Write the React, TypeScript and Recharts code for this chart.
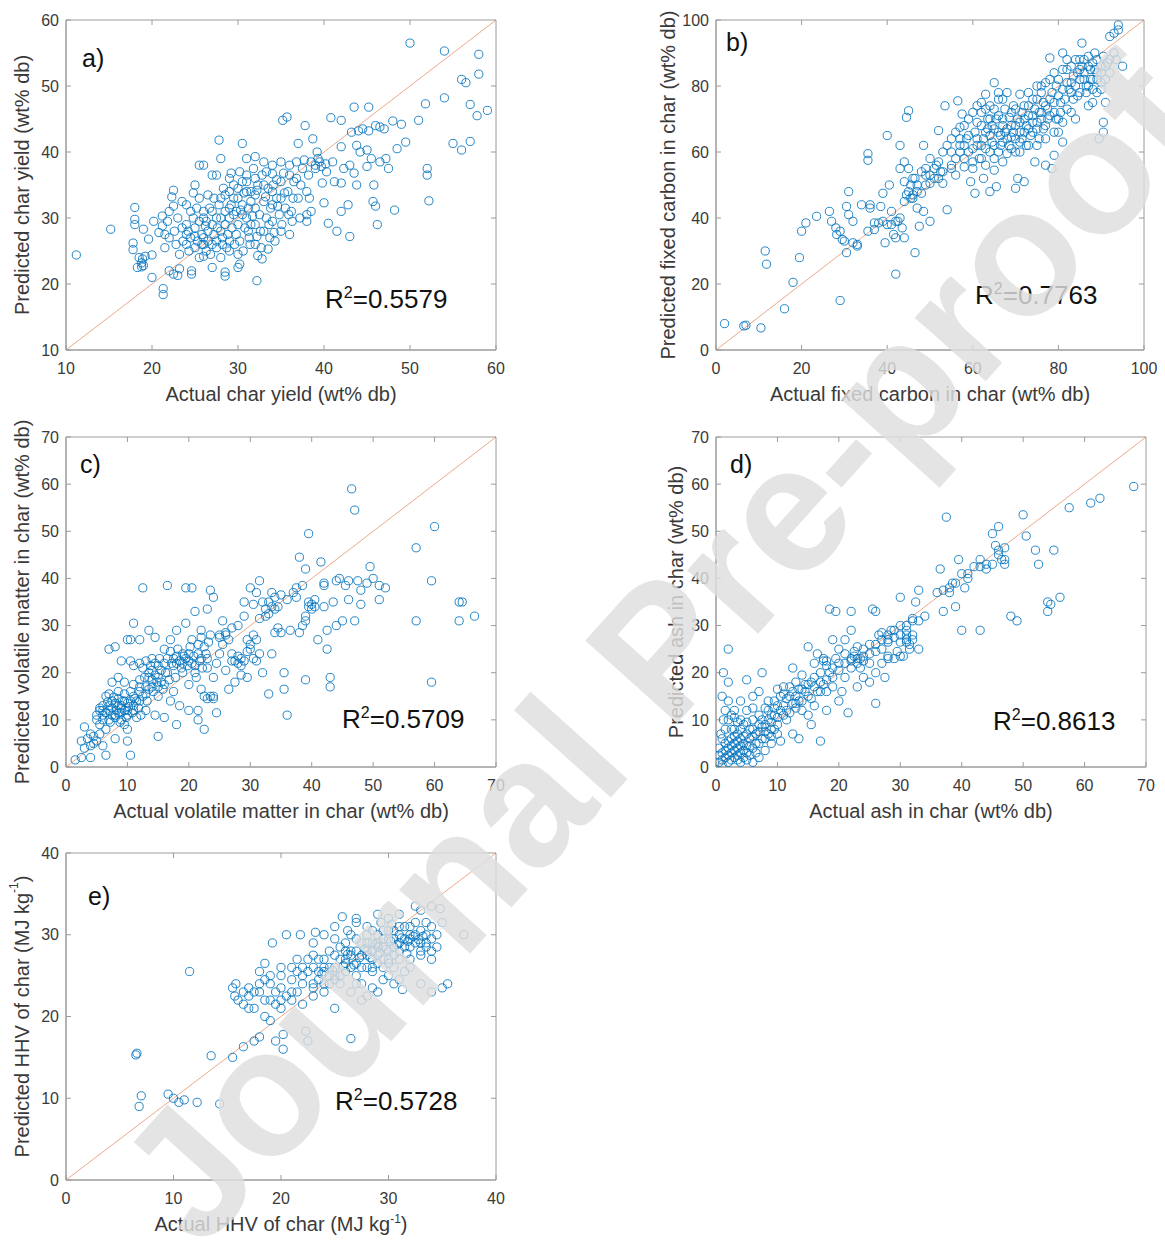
import React from "react";
import {
  ScatterChart,
  Scatter,
  XAxis,
  YAxis,
  ReferenceLine,
  ReferenceArea,
} from "recharts";

type Pt = [number, number];

// [actual, predicted] pairs
const charYield: Pt[] = [
  [11.2, 24.4], [15.2, 28.3], [18, 31.6], [18, 29.8], [18, 29], [17.8, 26.2], [17.8, 25.2], [18.5, 24],
  [18.8, 23.2], [19, 22.8], [18.8, 22.6], [19.2, 24.2], [19, 28.3], [20, 24.4], [20, 21], [21.2, 30.3],
  [21.2, 28.8], [21.5, 27.5], [22, 27], [21.3, 19.3], [21.3, 18.4], [22.5, 34.2], [22.3, 33.2], [22.5, 31.8],
  [22, 22], [22.5, 21.5], [23, 21.3], [23.2, 22.3], [23.5, 32.5], [24, 32], [24.5, 31], [24, 29],
  [24, 26], [24.3, 25], [24.6, 22], [24.6, 21.5], [25, 35], [25.5, 38], [25.3, 26.5], [25.5, 24],
  [26, 30], [26, 27], [26, 26], [26.3, 25], [26.5, 28], [27, 36.5], [27, 22.5], [27, 31],
  [27.5, 26.5], [27.8, 41.8], [28, 39], [28, 33], [28, 30], [28.2, 27], [28.5, 21.8], [28.5, 21.2],
  [28.5, 29], [29, 36], [29, 34], [29, 26.5], [29.2, 32], [29.5, 30.5], [29.8, 27.5], [30, 24.5],
  [30, 22.5], [30.2, 23], [30, 33], [30.2, 37], [30.5, 41.3], [30.5, 35.5], [31, 39], [31, 34],
  [31, 30], [31.2, 28], [31.5, 32.5], [32, 36], [32, 39.3], [32, 31.5], [32, 29], [32.2, 27.2],
  [32.3, 24.3], [32.2, 20.5], [32.8, 23.8], [33, 35], [33, 38.5], [33.3, 30], [33.5, 25.3], [34, 36.7],
  [34, 34], [34, 32], [34, 29.5], [34.3, 26.5], [34.5, 35.8], [35, 33], [35, 28], [35, 38.5],
  [35.2, 44.8], [35.7, 45.3], [36, 38], [36, 27.5], [36.2, 31], [36.5, 35.5], [37, 41.3], [37.3, 35],
  [37.8, 44], [37.7, 38.8], [38, 34], [38, 30.5], [38, 29.5], [38.5, 31], [38.7, 42], [39, 38],
  [39.5, 38.5], [39.8, 35.3], [40, 32.3], [40.3, 37], [40.5, 29.2], [40.8, 45.2], [41, 38.5], [41.5, 28],
  [42, 44.8], [42, 40.8], [42, 35.3], [42, 31], [42.3, 37.5], [42.8, 32], [43, 27.2], [43.2, 43],
  [43.5, 46.8], [43.5, 36.8], [43.8, 41], [43.8, 35], [44, 43.2], [44.5, 43.5], [45, 40.3], [45, 37.8],
  [45.2, 46.8], [45.2, 43.2], [45.5, 39], [45.7, 32.5], [46, 44], [46, 31.8], [46.2, 29], [46.5, 43.8],
  [47, 43.5], [47.5, 37.5], [48, 44.7], [48.2, 31.2], [48.5, 40.5], [49, 44.2], [49.5, 41.5], [50, 56.5],
  [51, 44.8], [51.8, 47.3], [52, 37.5], [52, 36.5], [52.2, 32.6], [54, 48.2], [54, 55.3], [55, 41.3],
  [56, 40.3], [56, 51], [56.5, 50.5], [57, 41.6], [57, 47.2], [57.8, 45.5], [58, 51.8], [58, 54.8],
  [59, 46.3], [24.5, 27], [25, 28.5], [25, 25.5], [25.5, 29.5], [25.8, 27.5], [26, 31], [26.2, 28.8],
  [26.5, 26.5], [26.8, 24.5], [27, 29], [27.2, 27.5], [27.5, 30], [27.5, 25.5], [27.8, 32], [28, 28],
  [28.2, 26], [28.5, 31], [28.5, 33.5], [28.8, 27.5], [29, 30], [29, 31.5], [29.3, 28.5], [29.5, 33],
  [29.5, 35], [29.8, 31], [30, 29], [30, 34.5], [30.2, 26.5], [30.5, 32], [30.5, 30.5], [30.8, 28.5],
  [31, 35.5], [31, 36.5], [31.2, 31.5], [31.5, 29], [31.5, 34], [31.8, 37.5], [32, 33.5], [32, 26],
  [32.3, 35], [32.5, 30.5], [32.8, 36.5], [33, 32.5], [33, 28], [33.3, 37], [33.5, 34.5], [33.8, 31.5],
  [34, 38], [34.2, 27.8], [34.5, 33], [34.8, 30.5], [35, 35.5], [35.3, 36.8], [35.5, 31.5], [35.8, 34],
  [36, 36.5], [36.3, 29.5], [23, 30], [23.5, 28.5], [22.8, 26], [23.2, 24.5], [21.8, 29.5], [22, 31],
  [20.8, 27.8], [26, 38], [27.5, 36.5], [26.5, 33.5], [25.5, 33], [24.8, 33.8], [38.5, 38.5], [39, 37.5],
  [39.3, 39], [39.7, 37.8], [38.2, 36.5], [37.5, 37.5], [37, 33], [36.8, 38.5], [24.2, 28], [24.8, 30],
  [25.2, 31.5], [25.8, 26], [26.3, 29.5], [26.7, 31.5], [27.2, 33], [27.6, 28.5], [28.3, 34.5], [28.7, 25.5],
  [29.2, 36.8], [29.6, 26], [30.3, 31.2], [30.7, 33.8], [31.3, 27], [31.7, 30.3], [32.2, 34.2], [32.6, 28],
  [33.2, 33.2], [33.6, 29], [34.1, 35], [34.6, 31.8], [35.1, 29], [35.4, 33.8], [35.9, 30.5], [36.4, 33],
  [36.8, 36], [37.2, 30], [38.3, 33], [39.2, 40], [40.2, 38.2], [41.2, 35.5], [43, 38], [44.2, 40],
  [46.5, 38.5], [45.8, 35], [47.2, 39], [25, 27.2], [26, 24.2], [27, 26], [28, 24], [29, 25],
  [30.6, 25], [31.4, 26], [32.7, 25.5], [33.7, 27], [24, 27.5], [23.6, 26.5], [22.6, 28], [21.5, 25.5],
  [20.2, 29.5], [19.6, 26.8], [18.3, 22.5], [18.9, 23.8],
];

const fixedCarbon: Pt[] = [
  [2, 8], [6.5, 7.3], [7, 7.5], [10.5, 6.7], [11.5, 30], [11.8, 26], [16, 12.5], [18, 20.5],
  [19.5, 28], [20, 36], [21, 38.5], [23.5, 40.5], [26.5, 42], [27, 39], [28, 37], [28.2, 35],
  [29, 15], [29.5, 33.5], [30.5, 29.5], [30.5, 43.5], [31, 48], [31, 41], [32, 32.5], [32, 39],
  [33, 31.5], [34, 44], [35.5, 36], [35.5, 59.5], [35.5, 57.5], [36, 43], [37, 36.5], [38, 38.5],
  [38.5, 43.5], [39, 47.5], [39.5, 32.5], [40, 65], [40, 38], [40.5, 50], [41, 42], [41.5, 35],
  [42, 23], [42, 34], [42.5, 39], [43, 62], [43, 55], [43.5, 37], [44, 34], [44, 45],
  [44.5, 70.5], [45, 72.5], [45, 48], [45, 55], [45.5, 50], [46, 46], [46.5, 29.5], [46.5, 52],
  [47, 43], [47.5, 37.5], [48, 47.5], [48.5, 62], [48.5, 42], [49, 55], [49, 53], [50, 39],
  [50, 50.5], [51, 52], [51.5, 56], [52, 66.5], [52.5, 54], [53, 50.5], [53.5, 74], [54, 42.5],
  [55, 60], [55, 55], [56, 53], [56.5, 75.5], [57, 62], [57, 67.5], [57.5, 71.5], [58, 55.5],
  [58, 58], [58.5, 64], [59, 60], [59.5, 51], [60, 57], [60.5, 47.5], [61, 64], [61, 69],
  [61.5, 58], [62, 72], [62, 62], [62.5, 52], [63, 77.5], [63, 66], [63.5, 70], [64, 60],
  [64, 74], [64, 48], [64.5, 63], [65, 81], [65, 67], [65, 54.5], [65.5, 49.5], [66, 78],
  [66, 71], [66, 60], [66.5, 65], [67, 68], [67, 63], [67.5, 73], [68, 67], [68, 59.5],
  [68.5, 70.5], [69, 64.5], [69.5, 74], [70, 68], [70, 60], [70, 49], [70.5, 52], [71, 66],
  [71, 77.5], [71.5, 64], [72, 51], [72, 70], [72.5, 62], [73, 67], [73, 74], [74, 71],
  [74, 66], [74.5, 57], [75, 76], [75, 69], [75.5, 64], [76, 72], [76, 80], [76.5, 67],
  [77, 74], [77, 56], [77.5, 70], [78, 76], [78, 88.5], [78.5, 55], [79, 59], [79, 72],
  [79.5, 80], [80, 66], [80, 70], [80.5, 75], [81, 90], [81, 63], [82, 85], [82, 73],
  [82.5, 79], [83, 81], [83.5, 76], [84, 70], [84.5, 84], [85, 88], [85, 78], [85.5, 93],
  [86, 82], [86.5, 80], [87, 74], [87, 89], [87.5, 85], [88, 82], [88, 87], [88.5, 90],
  [89, 78], [89, 84], [89.5, 64], [90, 81], [90, 86], [90.5, 66], [90.5, 69], [90.5, 89],
  [91, 75], [91.5, 87], [92, 84], [92, 95], [93, 96], [93.5, 88], [94, 98.5], [94, 97],
  [95, 86], [58, 62], [59, 65], [60, 61], [60.5, 66], [61, 62], [62, 68], [62.5, 64],
  [63, 61], [63.5, 67], [64, 65], [64.5, 68], [65, 62], [65.5, 70], [66, 66], [66.5, 62],
  [67, 70], [67.5, 66], [68, 64], [68.5, 62], [69, 68], [69.5, 66], [70, 64], [70.5, 70],
  [71, 69], [71.5, 72], [72, 66], [72.5, 68], [73, 71], [73.5, 65], [74, 69], [74.5, 73],
  [75, 67], [75.5, 72], [76, 70], [76.5, 75], [77, 68], [77.5, 73], [78, 71], [78.5, 78],
  [79, 75], [79.5, 70], [80, 77], [80.5, 72], [81, 79], [81.5, 76], [82, 81], [83, 78],
  [83.5, 83], [84, 80], [84.5, 77], [85, 82], [85.5, 86], [86, 84], [86.5, 78], [87, 86],
  [87.5, 82], [88, 79], [88.5, 85], [89, 88], [90, 84], [91, 82], [56, 58], [57, 60],
  [55, 56], [53, 54], [52, 52], [51, 55], [50, 53], [49, 50], [47, 48], [46, 47],
  [45.5, 46], [44.5, 47], [44, 57], [44, 51], [43, 40], [42, 39], [41, 38], [39, 39],
  [37, 38.5], [36, 44], [33, 32], [30, 33], [29, 36], [46, 52], [47, 50], [48, 54],
  [50, 58], [52, 57], [53, 60], [54, 62], [55, 64], [56, 66], [57, 64], [58, 68],
  [59, 70], [60, 72], [61, 74], [62, 75], [63, 73], [64, 70], [65, 73], [66, 76],
  [67, 76], [68, 78], [69, 72], [70, 73], [71, 60], [72, 74], [73, 78], [74, 76],
  [75, 80], [76, 78], [77, 81], [78, 82], [79, 84], [80, 82], [81, 85], [82, 88],
  [83, 86], [84, 88], [85, 85], [86, 88], [87, 80], [88, 75], [89, 82], [90, 79],
  [91, 86], [92, 88], [93, 90], [60, 55], [62, 58], [63, 56], [65, 58], [67, 57],
  [69, 61], [71, 63], [73, 62], [75, 62], [77, 64], [79, 66], [81, 69], [83, 72],
];

const volatileMatter: Pt[] = [
  [1.5, 1.5], [2.5, 2], [2.5, 5.5], [3, 8.5], [3.5, 6], [4, 2], [4, 4.5], [4.5, 5],
  [4.5, 6.5], [5, 5.5], [5, 10], [5.5, 9], [5.5, 12], [6, 4.5], [6, 11], [6.5, 2.5],
  [6.5, 15], [7, 25], [7, 12], [7, 10], [7.5, 14], [7.5, 18], [8, 25.5], [8, 11],
  [8, 6], [8.5, 13], [8.5, 16], [9, 22.5], [9, 10], [9, 12.5], [9.5, 9], [9.5, 14],
  [10, 27], [10, 8], [10, 5.5], [10, 12], [10.5, 22.5], [10.5, 27], [10.5, 2.5], [11, 15],
  [11, 30.5], [11, 13], [11.5, 10.5], [12, 17], [12, 14], [12, 27], [12.5, 38], [12.5, 21],
  [13, 12], [13, 15.5], [13, 22.5], [13.5, 29], [13.5, 19], [14, 23], [14, 17], [14, 20.5],
  [14.5, 11], [14.5, 27.5], [15, 15], [15, 6.5], [15, 21.5], [15.5, 18], [16, 10.5], [16, 25],
  [16.5, 38.5], [16.5, 20], [17, 14], [17, 27], [17.5, 23], [17.5, 16], [18, 9], [18, 22],
  [18, 29], [18.5, 13], [19, 20], [19, 24], [19.5, 38], [19.5, 30.5], [20, 22.5], [20, 12],
  [20, 17.5], [20.5, 27], [20.5, 38], [21, 33], [21, 20], [21.5, 10], [21.5, 24], [21.5, 12],
  [22, 29], [22, 23], [22, 16.5], [22.5, 8], [22.5, 25.5], [23, 14.5], [23, 33.5], [23, 21],
  [23.5, 37.5], [23.5, 28], [24, 15], [24, 36], [24, 19], [24.5, 11.5], [25, 28], [25, 24],
  [25.5, 31], [26, 28.5], [26, 20.5], [26.5, 16.5], [27, 29.5], [27, 24], [27.5, 18], [28, 22],
  [28, 30], [28.5, 19.5], [29, 35], [29, 22.5], [29, 32], [29.5, 19], [30, 38], [30, 26],
  [30.5, 34.5], [30.5, 23], [31, 37], [31, 22.5], [31, 27], [31.5, 39.5], [32, 20], [32.5, 32],
  [33, 15.5], [33, 35], [33.5, 34], [33.5, 24], [34, 33.5], [34, 28.5], [34.5, 29.5], [35, 28.5],
  [35, 36.5], [35.5, 20], [35.5, 16.5], [36, 11], [36.5, 29], [37, 37], [37.5, 36], [38, 28.5],
  [38, 44.5], [38.5, 38.5], [39, 42], [39, 18.5], [39, 31], [39.5, 35], [39.5, 49.5], [40, 34.5],
  [40.5, 34], [41, 27], [41.5, 43.5], [42, 39], [42, 34], [42.5, 25], [42.5, 29], [43, 17],
  [43, 19], [43.5, 35], [44, 30], [44.5, 40], [45, 31], [46, 39.5], [46, 35.5], [46.5, 59],
  [47, 31], [47, 54.5], [47.5, 39.5], [48, 37.5], [48, 34.5], [49.5, 42.5], [50, 40], [51, 35.5],
  [51, 38.5], [52, 38], [57, 46.5], [57, 31], [59.5, 39.5], [59.5, 18], [60, 51], [64, 35],
  [64.5, 35], [64, 31], [66.5, 32], [5, 11], [5.5, 12.5], [6, 10], [6, 13], [6.5, 11.5],
  [7, 13], [7, 15.5], [7.5, 11], [7.5, 12.5], [8, 13.5], [8, 10.5], [8.5, 11.5], [8.5, 14.5],
  [9, 13], [9, 11.5], [9.5, 12], [9.5, 15.5], [10, 13.5], [10, 11], [10.5, 14], [10.5, 16],
  [11, 12], [11, 17.5], [11.5, 14], [12, 16], [12, 18.5], [12.5, 15], [13, 17], [13.5, 20],
  [13.5, 16.5], [14, 18.5], [14.5, 19.5], [14.5, 22], [15, 19], [15, 17], [15.5, 20.5], [16, 22],
  [16, 17.5], [16.5, 23], [17, 24.5], [17.5, 21.5], [18, 23.5], [18.5, 22.5], [19, 22], [19.5, 23],
  [20, 24], [20.5, 22], [21, 21.5], [21.5, 26], [22, 27.5], [23, 23], [23.5, 15], [24, 14.5],
  [22.5, 15], [25, 27.5], [26, 28], [27.5, 22.5], [28, 23.5], [28.5, 21.5], [29.5, 24.5], [30, 25],
  [31.5, 24], [32.5, 33.5], [33, 32.5], [34, 36], [38.5, 30], [39, 32], [39.5, 34], [40, 33.5],
  [6, 12], [6.8, 13.8], [7.2, 9.5], [7.8, 14.8], [8.2, 12], [8.8, 9.5], [9.2, 14], [9.8, 10.5],
  [10.2, 12.8], [10.8, 11.5], [11.2, 14.5], [11.8, 12.5], [12.2, 11], [12.8, 19], [13.2, 14], [13.8, 21.5],
  [14.2, 16], [14.8, 18], [15.2, 23], [15.8, 16.5], [16.2, 20], [16.8, 18.5], [17.2, 22], [17.8, 19],
  [18.2, 25], [18.8, 21], [19.2, 23.5], [19.8, 21.5], [20.2, 25.5], [20.8, 23.5], [21.2, 19], [21.8, 22.5],
  [22.2, 21], [22.8, 24], [23.2, 26.5], [24.5, 22], [25.5, 26], [26.5, 27], [27, 22.5], [28.5, 23],
  [29.5, 27], [30.5, 28], [31.5, 31.5], [32, 35], [33.5, 37], [34.5, 34], [36, 35.5], [37.5, 38],
  [40.5, 35.5], [42, 38.5], [44, 39.5], [45.5, 38.5], [49, 39], [6.5, 8], [4, 7], [3, 4],
  [5.5, 7], [8.5, 19], [9.5, 18], [12, 22], [11, 21.5],
];

const ashContent: Pt[] = [
  [0.5, 1], [1, 0.5], [1, 3], [1, 15], [1.2, 20], [1.5, 5], [1.5, 2], [2, 25],
  [2, 18], [2, 4], [2, 1], [2.5, 6], [2.5, 8], [2.5, 3], [3, 10.5], [3, 2],
  [3, 5], [3.5, 4], [3.5, 1.5], [4, 10], [4, 3], [4, 6], [4.5, 2], [4.5, 5],
  [5, 18.5], [5, 12], [5, 7], [5, 3], [5.5, 4.5], [6, 1], [6, 8], [6, 12.5],
  [6.5, 5], [7, 2], [7, 9], [7.5, 20], [7.5, 6], [8, 7.5], [8, 3.5], [8.5, 12],
  [8.5, 10], [9, 5], [9, 8], [9.5, 14], [9.5, 11], [10, 9], [10, 16.5], [10.5, 5.5],
  [11, 13], [11, 17], [11.5, 10], [12, 15], [12.5, 7], [12.5, 21], [13, 12.5], [13, 18],
  [13.5, 6], [14, 19.5], [14, 14], [14.5, 16], [15, 25.5], [15, 11], [15.5, 9], [15.5, 18],
  [16, 13], [16, 22], [16.5, 24], [17, 5.5], [17, 16], [17.5, 22.5], [18, 22.5], [18, 12],
  [18.5, 33.5], [18.5, 20], [19, 27], [19, 17], [19.5, 33], [20, 14], [20, 25], [20.5, 16],
  [21, 19], [21, 27], [21.5, 11.5], [22, 23], [22, 33], [22, 29], [22.5, 24.5], [23, 23],
  [23, 17], [23.5, 21], [24, 22.5], [24, 19], [25, 26], [25, 18], [25.5, 33.5], [26, 13.5],
  [26, 33], [26, 20], [26.5, 28], [27, 22], [27, 28.5], [27.5, 19], [28, 23], [28, 27],
  [28.5, 29], [29, 23], [29.5, 24.5], [30, 36], [30, 26.5], [30.5, 23.5], [31, 27], [31, 30],
  [31.5, 25], [32, 28], [32, 31.5], [32.5, 35], [33, 37.5], [33, 25], [36.5, 42], [37, 33],
  [37.5, 53], [37, 37.5], [38, 38], [38.5, 39], [39, 34], [39.5, 44], [40, 29], [40, 41],
  [40.5, 38], [41, 41], [42, 42.5], [43, 29], [43, 44], [44, 43], [45, 43], [45, 49.5],
  [45.5, 47], [46, 51], [46, 46], [46.5, 44], [47, 46.5], [47, 43], [48, 32], [49, 31],
  [50, 53.5], [50.5, 49], [52, 46], [52.5, 43], [54, 33], [54, 35], [54.5, 34.5], [55, 46],
  [56, 36], [57.5, 55], [61, 56], [62.5, 57], [68, 59.5], [0.5, 2.5], [1, 1.5], [1.5, 3.5],
  [2, 2.5], [2, 5.5], [2.5, 1.5], [2.5, 4.5], [3, 3.5], [3, 6.5], [3.5, 2.5], [3.5, 5.5],
  [4, 4.5], [4, 1], [4.5, 3.5], [4.5, 6.5], [5, 4.5], [5, 1.5], [5.5, 2.5], [5.5, 6],
  [6, 4], [6, 6.5], [6.5, 3], [7, 5], [7, 7.5], [7.5, 8.5], [8, 9], [8, 6],
  [8.5, 7], [9, 9.5], [9, 6.5], [9.5, 8], [10, 10.5], [10, 7], [10.5, 12], [11, 11],
  [11.5, 14.5], [12, 11.5], [12.5, 13.5], [13, 15], [13.5, 16.5], [14, 12], [14.5, 17.5], [15, 15],
  [16, 17], [17, 18], [18, 18.5], [19, 21], [20, 20.5], [21, 22], [22, 22.5], [23, 22],
  [24, 25], [25, 24], [26, 26], [27, 27], [28, 26.5], [29, 27.5], [30, 28], [31, 29],
  [32, 31], [22.5, 23.5], [23.5, 23], [17.5, 23], [18, 21.5], [28, 23.5], [30, 23.5], [31, 26.5],
  [31.5, 26], [1, 6], [1.5, 8], [1.5, 12], [2, 10], [2, 14], [2.5, 11], [3, 8],
  [3.5, 7], [3.5, 9.5], [4, 8], [4.5, 9], [5, 9.5], [5.5, 8], [6, 10], [6.5, 7],
  [7, 11], [7.5, 10], [8, 12.5], [8.5, 14], [9, 11], [9.5, 12.5], [10, 13], [10.5, 15],
  [11, 15.5], [11.5, 12], [12, 17], [12.5, 16], [13, 13.5], [13.5, 14], [14, 16.5], [15, 17.5],
  [15.5, 14.5], [16, 19], [16.5, 16], [17, 20], [17.5, 17.5], [18, 16], [19, 19], [19.5, 23],
  [20, 22], [21, 24], [22, 21], [23, 25.5], [24, 23.5], [25, 22], [26, 24.5], [27, 25],
  [28, 28], [29, 29], [30, 30], [31, 28], [32, 27], [33, 31], [34, 32], [36, 37],
  [38, 37], [39, 39], [41, 40], [43, 42.5], [44, 42], [46, 45], [47, 44], [0.5, 4],
  [0.8, 7], [1.2, 10], [3, 12], [4, 14], [6, 15], [7, 16],
];

const hhv: Pt[] = [
  [6.5, 15.3], [6.6, 15.5], [6.8, 9], [7, 10.3], [9.5, 10.5], [10, 10], [10.5, 9.5], [11, 9.8],
  [11.5, 25.5], [12.2, 9.5], [13.5, 15.2], [14.3, 9.3], [15.5, 15], [15.5, 23.5], [15.7, 22.5], [15.8, 24],
  [16.5, 16.3], [17, 21], [17, 22.5], [17.5, 17], [17.5, 23], [18, 25.5], [18, 17.5], [18.5, 22],
  [18.5, 26.5], [19, 24], [19, 19.5], [19.2, 29], [19.5, 21.5], [19.5, 17], [20, 25], [20, 22],
  [20.2, 16], [20.2, 17.8], [20.5, 30], [21, 26], [21, 22], [21.5, 23], [21.8, 30], [22, 25],
  [22, 21.5], [22.3, 18.2], [22.5, 17], [23, 24], [23, 27.5], [23.2, 30.3], [23.5, 25.5], [24, 30],
  [24, 23], [24.5, 26], [25, 29.5], [25, 24.5], [25, 21], [25.5, 27], [25.7, 32.2], [26, 25.5],
  [26.2, 30.5], [26.5, 17.3], [26.5, 28], [27, 26.5], [27, 31.5], [27.5, 29], [27.5, 24], [28, 27.5],
  [28, 22.5], [28.5, 30.5], [28.5, 25.5], [29, 28.5], [29, 23], [29.3, 31.5], [29.5, 27], [30, 29.5],
  [30, 32], [30.5, 26], [30.5, 28.5], [31, 30], [31, 24.5], [31.3, 23.3], [31.5, 29.5], [32, 31],
  [32, 27], [32.5, 33.5], [33, 29], [33, 24], [33.5, 30], [33.5, 31.5], [34, 28], [34, 23],
  [34.5, 30], [34.8, 33.2], [35, 31.5], [35, 23.5], [35.5, 24], [37, 30], [22.5, 25.5], [23, 26],
  [23.5, 24.5], [24, 25.5], [24, 27], [24.5, 24], [25, 26], [25.5, 25], [25.5, 28.5], [26, 27],
  [26, 29], [26.5, 26], [27, 28], [27, 25], [27.5, 27.5], [28, 29], [28, 26], [28.5, 28],
  [28.5, 27], [29, 30], [29, 26.5], [29.5, 28.5], [29.5, 29.5], [30, 28], [30, 27], [30.5, 29.5],
  [30.5, 30.5], [31, 29], [31, 28], [31.5, 31], [32, 29.5], [32, 28.5], [32.5, 30], [32.5, 29],
  [33, 30.5], [33, 27.5], [33.5, 28.5], [34, 29.5], [34, 31], [21, 24.5], [21.5, 25.5], [20.5, 22.5],
  [20, 21], [19.5, 23], [19, 22], [18.5, 20], [18, 23], [17.5, 21], [16.5, 21.5], [16, 22],
  [22, 26], [23, 22.5], [24.5, 28], [26.5, 23], [27.5, 22], [28.5, 23.5], [30, 25], [31.5, 25.5],
  [22.5, 27], [23, 23.5], [23.5, 27], [24, 24], [24.5, 25], [25, 27.5], [25.5, 24], [26, 28],
  [26.5, 27.5], [27, 29.5], [27, 24], [27.5, 26], [28, 30], [28, 28], [28.5, 29], [28.5, 26],
  [29, 27.5], [29, 29], [29.5, 30.5], [29.5, 26], [30, 30.5], [30, 26.5], [30.5, 27.5], [31, 31],
  [31, 27], [31.5, 28.5], [32, 30], [32, 26], [32.5, 31.5], [33, 28], [33.5, 29], [34, 27],
  [34.5, 28.5], [30.5, 24], [29.5, 24.5], [26, 26.5], [25, 25], [24, 26], [22, 24], [21, 23],
  [20, 23.5], [19, 25], [18, 24], [17, 23.5], [16.5, 23], [18.5, 24.5], [20, 26], [21.5, 27],
  [23, 29], [25, 31], [27, 32], [29, 32.5], [31, 32.5], [33, 33], [34, 33.5], [26.5, 30],
  [28, 31], [27.8, 28.3], [28.3, 27.2], [28.8, 28.8], [29.2, 27.8], [29.8, 28.2], [30.2, 29.2], [30.8, 28.8],
  [31.2, 29.6], [31.8, 29.2], [32.3, 29.8], [32.8, 29.4], [33.2, 29.8], [27.3, 27.2], [26.8, 26.3], [25.8, 26.2],
  [24.8, 25.6], [23.8, 25.2], [26.2, 27.6], [30.3, 31.3], [31.7, 27.7],
];

const ticksYield = [10, 20, 30, 40, 50, 60];
const ticksCarbon = [0, 20, 40, 60, 80, 100];
const ticksSeventy = [0, 10, 20, 30, 40, 50, 60, 70];
const ticksHHV = [0, 10, 20, 30, 40];

const panelTags = ["a)", "b)", "c)", "d)", "e)"];
const r2Values = ["0.5579", "0.7763", "0.5709", "0.8613", "0.5728"];

const FONT = "'Liberation Sans', Arial, Helvetica, sans-serif";
const TEXT = "#3a3a3a";
const FRAME = "#9c9c9c";
const Y_W = 66;
const M_TOP = 30;
const M_RIGHT = 14;
const X_H = 64;

type Title = { text: string; sup?: string; tail?: string };

const panels = [
  {
    points: charYield, domain: [10, 60], ticks: ticksYield,
    left: 66, top: 20, w: 430, h: 330,
    xTitle: { text: "Actual char yield (wt% db)" },
    yTitle: { text: "Predicted char yield (wt% db)" },
    tagAt: [82, 46], r2At: [325, 284], yTitleOff: 44,
  },
  {
    points: fixedCarbon, domain: [0, 100], ticks: ticksCarbon,
    left: 716, top: 20, w: 428, h: 330,
    xTitle: { text: "Actual fixed carbon in char (wt% db)" },
    yTitle: { text: "Predicted fixed carbon in char (wt% db)" },
    tagAt: [726, 30], r2At: [975, 280], yTitleOff: 48,
  },
  {
    points: volatileMatter, domain: [0, 70], ticks: ticksSeventy,
    left: 66, top: 437, w: 430, h: 330,
    xTitle: { text: "Actual volatile matter in char (wt% db)" },
    yTitle: { text: "Predicted volatile matter in char (wt% db)" },
    tagAt: [80, 452], r2At: [342, 704], yTitleOff: 44,
  },
  {
    points: ashContent, domain: [0, 70], ticks: ticksSeventy,
    left: 716, top: 437, w: 430, h: 330,
    xTitle: { text: "Actual ash in char (wt% db)" },
    yTitle: { text: "Predicted ash in char (wt% db)" },
    tagAt: [730, 452], r2At: [993, 706], yTitleOff: 40,
  },
  {
    points: hhv, domain: [0, 40], ticks: ticksHHV,
    left: 66, top: 853, w: 430, h: 327,
    xTitle: { text: "Actual HHV of char (MJ kg", sup: "-1", tail: ")" },
    yTitle: { text: "Predicted HHV of char (MJ kg", sup: "-1", tail: ")" },
    tagAt: [88, 884], r2At: [335, 1086], yTitleOff: 44,
  },
];

function TitleText({ t }: { t: Title }) {
  return (
    <>
      <tspan>{t.text}</tspan>
      {t.sup && (
        <tspan dy={-8} fontSize={12}>
          {t.sup}
        </tspan>
      )}
      {t.tail && <tspan dy={8}>{t.tail}</tspan>}
    </>
  );
}

const Ring = (p: any) => (
  <circle
    cx={p.cx}
    cy={p.cy}
    r={4.1}
    fill="none"
    stroke="#0072BD"
    strokeOpacity={0.85}
    strokeWidth={1}
  />
);

function Panel({ cfg, idx }: { cfg: (typeof panels)[number]; idx: number }) {
  const data = cfg.points.map(([x, y]) => ({ x, y }));
  const [lo, hi] = cfg.domain;
  const span = hi - lo;
  const tx = (span * 5) / cfg.w; // 5px inward tick, in data units
  const ty = (span * 5) / cfg.h;
  const inner = cfg.ticks.filter((t) => t > lo && t < hi);
  const cx = Y_W + cfg.w / 2;
  const cy = M_TOP + cfg.h / 2;
  const yx = Y_W - cfg.yTitleOff;
  const tick = { fill: TEXT, fontSize: 16, fontFamily: FONT };
  const line = { stroke: FRAME, strokeWidth: 1 };
  return (
    <div
      style={{ position: "absolute", left: cfg.left - Y_W, top: cfg.top - M_TOP }}
    >
      <ScatterChart
        width={cfg.w + Y_W + M_RIGHT}
        height={cfg.h + M_TOP + X_H}
        margin={{ top: M_TOP, right: M_RIGHT, bottom: 0, left: 0 }}
      >
        <XAxis
          type="number"
          dataKey="x"
          domain={[lo, hi]}
          ticks={cfg.ticks}
          allowDataOverflow
          height={X_H}
          tickSize={-5}
          tickMargin={18}
          tick={tick}
          axisLine={line}
          tickLine={line}
        />
        <YAxis
          type="number"
          dataKey="y"
          domain={[lo, hi]}
          ticks={cfg.ticks}
          allowDataOverflow
          width={Y_W}
          tickSize={-5}
          tickMargin={12}
          tick={tick}
          axisLine={line}
          tickLine={line}
        />
        <ReferenceArea
          x1={lo}
          x2={hi}
          y1={lo}
          y2={hi}
          fill="none"
          stroke={FRAME}
          strokeWidth={1}
          fillOpacity={0}
        />
        {inner.map((t) => (
          <ReferenceLine
            key={`t${t}`}
            segment={[
              { x: t, y: hi },
              { x: t, y: hi - ty },
            ]}
            stroke={FRAME}
          />
        ))}
        {inner.map((t) => (
          <ReferenceLine
            key={`r${t}`}
            segment={[
              { x: hi, y: t },
              { x: hi - tx, y: t },
            ]}
            stroke={FRAME}
          />
        ))}
        <ReferenceLine
          segment={[
            { x: lo, y: lo },
            { x: hi, y: hi },
          ]}
          stroke="#D95319"
          strokeOpacity={0.5}
          strokeWidth={1}
        />
        <Scatter data={data} isAnimationActive={false} shape={Ring} />
        <text
          x={cx}
          y={M_TOP + cfg.h + 51}
          textAnchor="middle"
          fill={TEXT}
          fontSize={20}
          fontFamily={FONT}
        >
          <TitleText t={cfg.xTitle} />
        </text>
        <text
          x={yx}
          y={cy}
          transform={`rotate(-90, ${yx}, ${cy})`}
          textAnchor="middle"
          dominantBaseline="central"
          fill={TEXT}
          fontSize={20}
          fontFamily={FONT}
        >
          <TitleText t={cfg.yTitle} />
        </text>
      </ScatterChart>
      <div
        style={{
          position: "absolute",
          left: cfg.tagAt[0] - cfg.left + Y_W,
          top: cfg.tagAt[1] - cfg.top + M_TOP,
          fontFamily: FONT,
          fontSize: 25,
          lineHeight: "25px",
          color: "#111",
        }}
      >
        {panelTags[idx]}
      </div>
      <div
        style={{
          position: "absolute",
          left: cfg.r2At[0] - cfg.left + Y_W,
          top: cfg.r2At[1] - cfg.top + M_TOP,
          fontFamily: FONT,
          fontSize: 26,
          lineHeight: "30px",
          color: "#111",
          whiteSpace: "nowrap",
        }}
      >
        R<span style={{ fontSize: 16, position: "relative", top: -10 }}>2</span>=
        {r2Values[idx]}
      </div>
    </div>
  );
}

export default function App() {
  return (
    <div
      style={{
        position: "absolute",
        left: 0,
        top: 0,
        width: 1165,
        height: 1241,
        background: "#fff",
        overflow: "hidden",
      }}
    >
      {panels.map((p, i) => (
        <Panel key={i} cfg={p} idx={i} />
      ))}
      <div
        style={{
          position: "absolute",
          left: 660,
          top: 650,
          fontFamily: FONT,
          fontSize: 180,
          fontWeight: 600,
          lineHeight: "200px",
          color: "rgba(222,222,222,0.82)",
          transform: "translate(-50%, -50%) rotate(-48deg)",
          pointerEvents: "none",
          whiteSpace: "nowrap",
        }}
      >
        Journal Pre-proof
      </div>
    </div>
  );
}
